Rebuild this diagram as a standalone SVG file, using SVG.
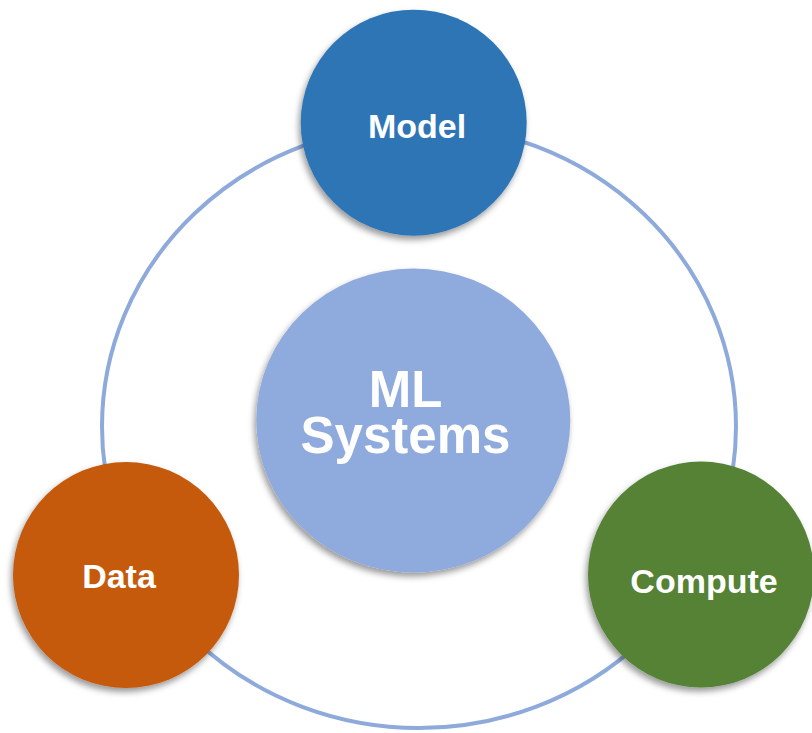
<svg xmlns="http://www.w3.org/2000/svg" width="812" height="733" viewBox="0 0 812 733">
  <defs>
    <filter id="shadow" x="-20%" y="-20%" width="140%" height="140%">
      <feDropShadow dx="-2" dy="4" stdDeviation="3" flood-color="#000" flood-opacity="0.4"/>
    </filter>
  </defs>
  <style>
    .ring { fill: none; stroke: #8eaadb; stroke-width: 4; }
    .node { filter: url(#shadow); }
    .lbl { font-family: "Liberation Sans", Arial, sans-serif; font-weight: bold; fill: #ffffff; text-anchor: middle; }
  </style>
  <rect width="812" height="733" fill="#ffffff"/>
  <g id="connectors">
    <ellipse class="ring" cx="419" cy="426.5" rx="317" ry="301.5"/>
  </g>
  <g id="ml-systems">
    <ellipse class="node" cx="413.3" cy="420.5" rx="157" ry="152" fill="#8faadc"/>
    <text class="lbl" font-size="51"><tspan x="405.5" y="406.7">ML</tspan><tspan x="405.5" y="453">Systems</tspan></text>
  </g>
  <g id="model">
    <circle class="node" cx="413.7" cy="122.7" r="113" fill="#2e75b6"/>
    <text class="lbl" x="417" y="138.3" font-size="34">Model</text>
  </g>
  <g id="data">
    <circle class="node" cx="126" cy="575" r="113" fill="#c55a11"/>
    <text class="lbl" x="119" y="588" font-size="34">Data</text>
  </g>
  <g id="compute">
    <circle class="node" cx="701" cy="574.5" r="113" fill="#548235"/>
    <text class="lbl" x="704" y="593.3" font-size="34">Compute</text>
  </g>
</svg>
